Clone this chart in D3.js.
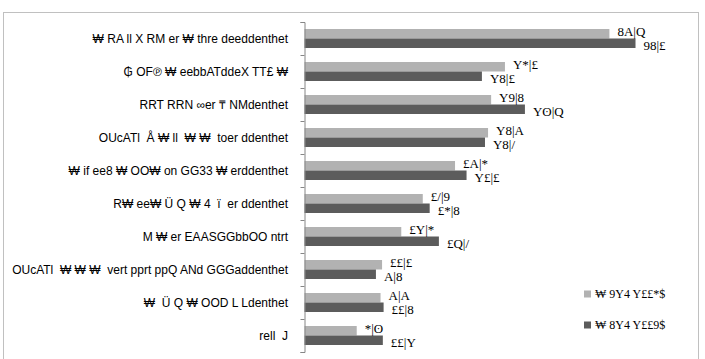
<!DOCTYPE html>
<html>
<head>
<meta charset="utf-8">
<script src="https://cdn.jsdelivr.net/npm/d3@7"></script>
<style>
  body { margin: 0; background: #fff; }
  svg { display: block; }
  .cat { font-family: "Liberation Sans", Arial, sans-serif; font-size: 12px; fill: #000; white-space: pre; }
  .val { font-family: "Liberation Serif", "DejaVu Serif", serif; font-size: 13px; fill: #000; }
  .leg { font-family: "Liberation Serif", "DejaVu Serif", serif; font-size: 12px; fill: #000; }
</style>
</head>
<body>
<div id="chart"></div>
<script>
// categories, top to bottom (text as it shows in the picture)
var categories = [
  "\u20a9 RA ll X RM er \u20a9 thre deeddenthet",
  "\u20b2 OF\u2117 \u20a9 eebbATddeX TT\u00a3 \u20a9",
  "RRT RRN \u221eer \u20b8 NMdenthet",
  "OUcATl  \u00c5 \u20a9 ll  \u20a9 \u20a9  toer ddenthet",
  "\u20a9 if ee8 \u20a9 OO\u20a9 on GG33 \u20a9 erddenthet",
  "R\u20a9 ee\u20a9 \u00dc Q \u20a9 4  \u00ef  er ddenthet",
  "M \u20a9 er EAASGGbbOO ntrt",
  "OUcATl  \u20a9 \u20a9 \u20a9  vert pprt ppQ ANd GGGaddenthet",
  "\u20a9  \u00dc Q \u20a9 OOD L Ldenthet",
  "rell  J"
];

// two series (light = first, dark = second)
var seriesNames = ["\u20a9 9Y4  Y\u00a3\u00a3*$", "\u20a9 8Y4  Y\u00a3\u00a39$"];
var lightValues = [39.7, 26.1, 24.3, 23.9, 19.6, 15.4, 12.6, 10.1, 9.9, 6.8];
var darkValues  = [43.1, 23.1, 28.7, 23.5, 21.1, 16.3, 17.5, 9.3, 10.3, 10.2];

// value labels as printed next to the bars
var lightLabels = ["8A|Q", "Y*|\u00a3", "Y9|8", "Y8|A", "\u00a3A|*", "\u00a3/|9", "\u00a3Y|*", "\u00a3\u00a3|\u00a3", "A|A", "*|\u0298"];
var darkLabels  = ["98|\u00a3", "Y8|\u00a3", "Y\u0298|Q", "Y8|/", "Y\u00a3|\u00a3", "\u00a3*|8", "\u00a3Q|/", "A|8", "\u00a3\u00a3|8", "\u00a3\u00a3|Y"];

var colors = ["#b2b2b2", "#5c5c5c"];

var width = 705, height = 359;
var svg = d3.select("#chart").append("svg")
    .attr("width", width)
    .attr("height", height);

// chart frame
svg.append("rect")
    .attr("x", 3.5).attr("y", 12.5)
    .attr("width", 695).attr("height", 360)
    .attr("fill", "none")
    .attr("stroke", "#c0c0c0");

var axisX = 304.5;
var x = d3.scaleLinear().domain([0, 50]).range([axisX, axisX + 384]);
var y = d3.scaleBand().domain(d3.range(categories.length)).range([22, 352]);
var ySub = d3.scaleBand().domain([0, 1]).range([0, y.bandwidth()]).paddingOuter(0.737);

var rows = categories.map(function (c, i) {
    return {
        cat: c,
        bars: [
            { s: 0, v: lightValues[i], label: lightLabels[i] },
            { s: 1, v: darkValues[i], label: darkLabels[i] }
        ]
    };
});

var groups = svg.append("g").selectAll("g")
    .data(rows)
    .join("g")
    .attr("transform", function (d, i) { return "translate(0," + y(i) + ")"; });

groups.selectAll("rect")
    .data(function (d) { return d.bars; })
    .join("rect")
    .attr("x", x(0))
    .attr("y", function (d) { return ySub(d.s); })
    .attr("width", function (d) { return x(d.v) - x(0); })
    .attr("height", ySub.bandwidth())
    .attr("fill", function (d) { return colors[d.s]; });

// value labels, light one sits a little high, dark one a little low
groups.selectAll("text.val")
    .data(function (d) { return d.bars; })
    .join("text")
    .attr("class", "val")
    .attr("x", function (d) { return x(d.v) + 8; })
    .attr("y", function (d) { return ySub(d.s) + ySub.bandwidth() / 2 + (d.s === 0 ? -2 : 2); })
    .attr("dy", "0.35em")
    .text(function (d) { return d.label; });

// category labels
groups.append("text")
    .attr("class", "cat")
    .attr("x", 288)
    .attr("y", y.bandwidth() / 2)
    .attr("dy", "0.35em")
    .attr("text-anchor", "end")
    .text(function (d) { return d.cat; });

// category axis
var axis = d3.axisLeft(d3.scaleLinear().domain([0, categories.length]).range([22, 352]))
    .ticks(categories.length)
    .tickSize(4)
    .tickFormat("");
var axisG = svg.append("g")
    .attr("transform", "translate(" + axisX + ",0)")
    .call(axis);
axisG.select(".domain").attr("stroke", "#868686");
axisG.selectAll(".tick line").attr("stroke", "#868686");

// legend
var legend = svg.append("g").selectAll("g")
    .data(seriesNames)
    .join("g")
    .attr("transform", function (d, i) { return "translate(584," + (294 + i * 31) + ")"; });
legend.append("rect")
    .attr("x", 0).attr("y", -3.5)
    .attr("width", 7).attr("height", 7)
    .attr("fill", function (d, i) { return colors[i]; });
legend.append("text")
    .attr("class", "leg")
    .attr("x", 11)
    .attr("dy", "0.35em")
    .text(function (d) { return d; });
</script>
</body>
</html>
